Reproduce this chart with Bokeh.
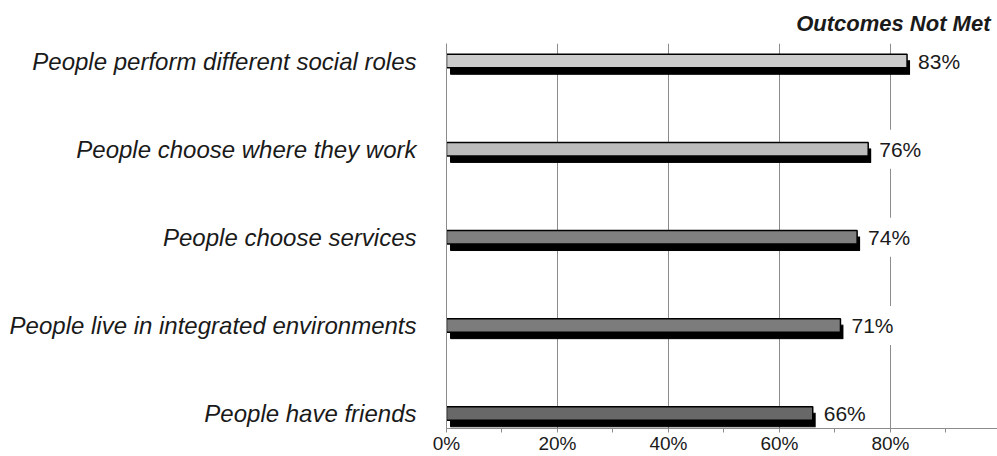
from bokeh.plotting import figure
from bokeh.models import FixedTicker, Range1d, ColumnDataSource
from bokeh.core.properties import value
from bokeh.embed import file_html
from bokeh.resources import INLINE

categories = [
    "People have friends",
    "People live in integrated environments",
    "People choose services",
    "People choose where they work",
    "People perform different social roles",
]
values = [66, 71, 74, 76, 83]
bar_colors = ["#686868", "#7c7c7c", "#808080", "#bcbcbc", "#cccccc"]
x_ticks = [0, 20, 40, 60, 80]
x_minor = [10, 30, 50, 70, 90]
title_text = "Outcomes Not Met"

ypos = list(range(len(categories)))
labels = [f"{v}%" for v in values]

FONT = "Liberation Sans"
px_per_unit_x = 5.55
px_per_unit_y = 88.1
dx = 4.0 / px_per_unit_x
dy = 6.5 / px_per_unit_y
bar_h = 13.5 / px_per_unit_y

src = ColumnDataSource(dict(
    y=ypos,
    v=values,
    c=bar_colors,
    ys=[y - dy for y in ypos],
    xs0=[dx] * len(values),
    xs1=[v + dx * 0.8 for v in values],
    lx=[v + 3.0 / px_per_unit_x for v in values],
    lab=labels,
))

p = figure(width=997, height=456, output_backend="svg", toolbar_location=None,
           x_range=Range1d(0, 99.3), y_range=Range1d(-0.17, 4.199),
           min_border_left=446, min_border_right=0, min_border_top=43,
           min_border_bottom=28)
p.outline_line_color = None
p.background_fill_color = "white"
p.border_fill_color = "white"

# shadow
p.hbar(y="ys", left="xs0", right="xs1", height=bar_h, source=src,
       fill_color="black", line_color="black")
# front bars
p.hbar(y="y", left=0, right="v", height=bar_h, source=src,
       fill_color="c", line_color="black", line_width=1.5)

p.text(x="lx", y="y", text="lab", source=src, text_align="left",
       text_baseline="middle", text_font=value(FONT), text_font_size="21px",
       text_color="#1a1a1a", background_fill_color="white", padding=8)

# x axis
xa = p.xaxis[0]
xa.ticker = FixedTicker(ticks=x_ticks, minor_ticks=x_minor)
xa.major_label_overrides = {t: f"{t}%" for t in x_ticks}
xa.axis_line_color = "#8c8c8c"
xa.major_tick_line_color = "#8c8c8c"
xa.minor_tick_line_color = "#8c8c8c"
xa.major_tick_in = 0
xa.major_tick_out = 4
xa.minor_tick_in = 0
xa.minor_tick_out = 4
xa.major_label_standoff = 0
xa.major_label_text_font = FONT
xa.major_label_text_font_size = "19px"
xa.major_label_text_color = "#1a1a1a"

# y axis
ya = p.yaxis[0]
ya.ticker = FixedTicker(ticks=ypos)
ya.major_label_overrides = {i: c for i, c in zip(ypos, categories)}
ya.axis_line_color = "#8c8c8c"
ya.major_tick_line_color = None
ya.minor_tick_line_color = None
ya.major_label_standoff = 24
ya.major_label_text_font = FONT
ya.major_label_text_font_style = "italic"
ya.major_label_text_font_size = "24px"
ya.major_label_text_color = "#1a1a1a"

p.xgrid.ticker = FixedTicker(ticks=[20, 40, 60, 80])
p.xgrid.grid_line_color = "#8c8c8c"
p.ygrid.grid_line_color = None

p.title.text = title_text
p.title.align = "right"
p.title.text_font = FONT
p.title.text_font_style = "bold italic"
p.title.text_font_size = "22px"
p.title.text_color = "#1a1a1a"
p.title.offset = 7
p.title.standoff = 16

p.xgrid.level = "underlay"

open("out.html", "w").write(file_html(p, INLINE))
